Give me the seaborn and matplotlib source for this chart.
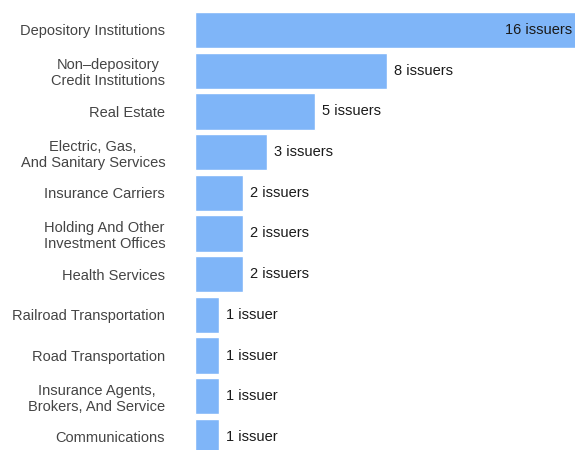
import matplotlib
matplotlib.use("Agg")
import matplotlib.pyplot as plt
import seaborn as sns
import pandas as pd

categories = [
    "Depository Institutions",
    "Non\u2013depository\nCredit Institutions",
    "Real Estate",
    "Electric, Gas,\nAnd Sanitary Services",
    "Insurance Carriers",
    "Holding And Other\nInvestment Offices",
    "Health Services",
    "Railroad Transportation",
    "Road Transportation",
    "Insurance Agents,\nBrokers, And Service",
    "Communications",
]
issuers = [16, 8, 5, 3, 2, 2, 2, 1, 1, 1, 1]

df = pd.DataFrame({"industry": categories, "issuers": issuers})

sns.set_theme(style="white")
plt.rcParams["font.family"] = ["Liberation Sans", "DejaVu Sans"]

fig = plt.figure(figsize=(5.75, 4.5), dpi=100)
ax = fig.add_axes([195 / 575, 0.0, 1 - 195 / 575, 1.0])

bar_color = "#7fb5f8"
sns.barplot(data=df, y="industry", x="issuers", orient="h", color=bar_color,
            width=0.89, saturation=1, ax=ax)

ax.set_xlim(0, 380 / 24)
ax.set_ylim(10.32, -0.737)
ax.set_xlabel("")
ax.set_ylabel("")
ax.set_xticks([])
for s in ax.spines.values():
    s.set_visible(False)
ax.tick_params(axis="y", length=0, pad=21.5, labelsize=10.5, labelcolor="#444444")
for lab in ax.get_yticklabels():
    lab.set_multialignment("center")

xmax = ax.get_xlim()[1]
for i, v in enumerate(issuers):
    text = f"{v} issuer" if v == 1 else f"{v} issuers"
    if v >= xmax:
        ax.annotate(text, (xmax, i), xytext=(-2, 0), textcoords="offset points",
                    ha="right", va="center", fontsize=10.5, color="#1a1a1a")
    else:
        ax.annotate(text, (v, i), xytext=(5, 0), textcoords="offset points",
                    ha="left", va="center", fontsize=10.5, color="#1a1a1a")

fig.savefig("out.png", dpi=100)
